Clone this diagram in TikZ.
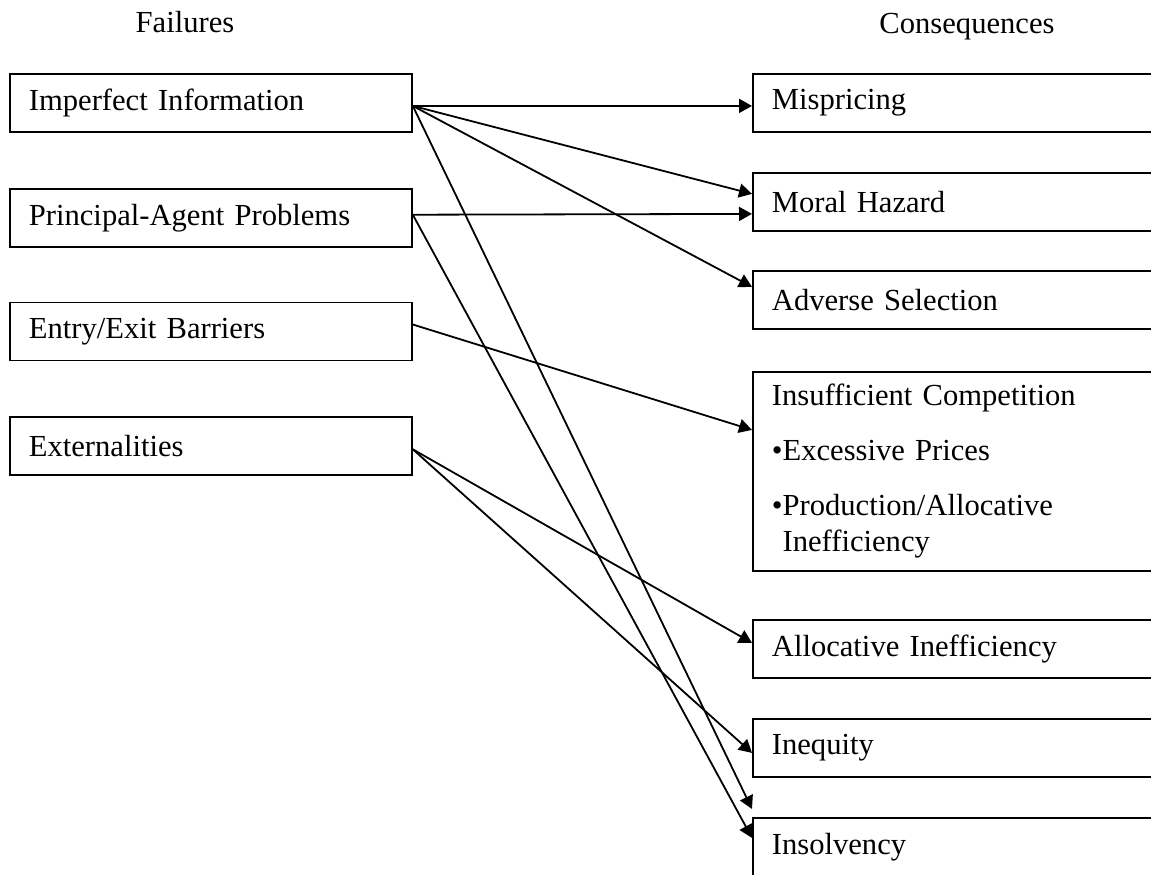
\documentclass[tikz,border=0pt]{standalone}
\usepackage{fontspec}
\setmainfont{Liberation Serif}
\usetikzlibrary{positioning,arrows.meta}
\tikzset{
	box/.style={draw, line width=0.9pt, anchor=north west, minimum height=29pt,
		inner xsep=9.5pt, inner ysep=2pt, align=left,
		font=\fontsize{15.3}{18}\selectfont},
	failbox/.style={box, text width=182pt},
	consbox/.style={box, text width=200pt},
	heading/.style={anchor=base, font=\fontsize{15.3}{18}\selectfont},
	link/.style={-{Triangle[length=6.5pt,width=7pt]}, line width=0.9pt}
}
\newcommand{\failure}[4]{
	\node [failbox, below=#2 of #1] (#3) {#4}
}
\newcommand{\outcome}[4]{
	\node [consbox, below=#2 of #1] (#3) {#4}
}

\begin{document}
\begin{tikzpicture}[x=0.5pt,y=-0.5pt]
	\useasboundingbox (0,0) rectangle (1151,874);

	% Headings
	\node [heading] (failhead) at (185,32) {Failures};
	\node [heading] (conshead) at (967,33) {Consequences};

	% Failures
	\node [failbox] (info) at (9,73) {Imperfect Information};
	\failure {info}{27.5pt}{agent}{Principal-Agent Problems};
	\failure {agent}{27pt}{entry}{Entry/Exit Barriers};
	\failure {entry}{27.5pt}{extern}{Externalities};

	% Consequences
	\node [consbox] (misprice) at (752,73) {Mispricing};
	\outcome {misprice}{19.6pt}{hazard}{Moral Hazard};
	\outcome {hazard}{19.1pt}{adverse}{Adverse Selection};
	\node [consbox, minimum height=99.5pt, below=20.6pt of adverse] (compet)
		{Insufficient Competition\\[9.5pt]
		•Excessive Prices\\[9.5pt]
		•Production/Allocative\\
		\hphantom{•}Inefficiency};
	\outcome {compet}{23.6pt}{alloc}{Allocative Inefficiency};
	\outcome {alloc}{19.6pt}{inequity}{Inequity};
	\outcome {inequity}{19.6pt}{insolv}{Insolvency};
	\coordinate (insolvtop) at ([yshift=4pt]insolv.north west);

	% Links
	\draw [link] ([yshift=-1.5pt]info.east) -- ([yshift=-1.5pt]misprice.west);
	\draw [link] ([yshift=-1.5pt]info.east) -- ([yshift=4pt]hazard.west);
	\draw [link] ([yshift=-1.5pt]info.east) -- ([yshift=6.5pt]adverse.west);
	\draw [link] ([yshift=-1.5pt]info.east) -- (insolvtop);
	\draw [link] ([yshift=1.5pt]agent.east) -- ([yshift=-6pt]hazard.west);
	\draw [link] ([yshift=1.5pt]agent.east) -- ([yshift=4.5pt]insolv.west);
	\draw [link] ([yshift=3.5pt]entry.east) -- ([yshift=20.75pt]compet.west);
	\draw [link] ([yshift=-1.5pt]extern.east) -- ([yshift=3pt]alloc.west);
	\draw [link] ([yshift=-1.5pt]extern.east) -- ([yshift=-2.5pt]inequity.west);
\end{tikzpicture}
\end{document}
